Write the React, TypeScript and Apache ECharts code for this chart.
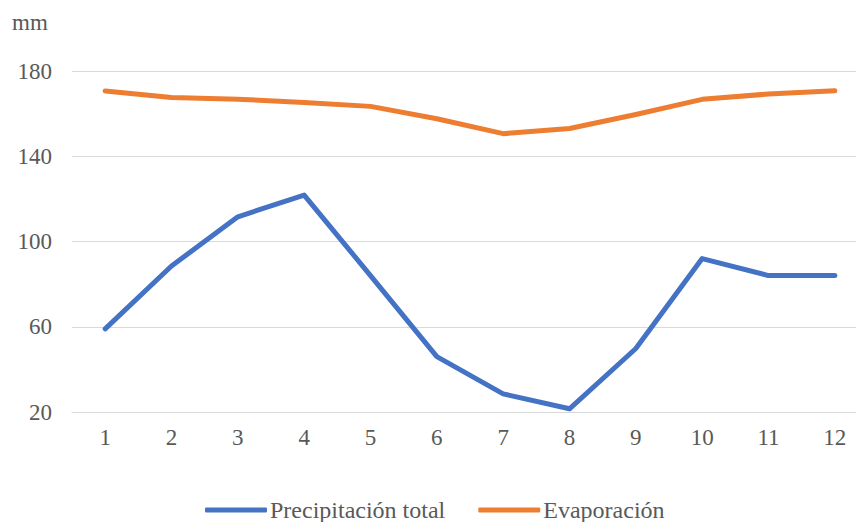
import React, { useEffect, useRef } from "react";
import * as echarts from "echarts";

// Monthly totals (mm)
const months = ["1", "2", "3", "4", "5", "6", "7", "8", "9", "10", "11", "12"];
const precipitacion = [59, 88.5, 111.6, 121.8, 84, 46, 28.5, 21.5, 49.8, 92, 84, 84];
const evaporacion = [170.6, 167.6, 166.8, 165.2, 163.4, 157.6, 150.6, 153, 159.6, 166.7, 169.2, 170.7];
const yTicks = [20, 60, 100, 140, 180];

const FONT = '"Liberation Serif", "Times New Roman", serif';
const TEXT = "#595959";

export default function App() {
  const ref = useRef<HTMLDivElement>(null);

  useEffect(() => {
    if (!ref.current) return;
    const chart = echarts.init(ref.current, undefined, { renderer: "svg" });
    chart.setOption({
      animation: false,
      backgroundColor: "#ffffff",
      textStyle: { fontFamily: FONT, color: TEXT },
      // plot area runs past the right edge, as the last band is cut off
      grid: {
        left: 72,
        top: 71,
        right: -12,
        bottom: 110,
        containLabel: false,
        outerBoundsMode: "none",
      },
      graphic: [
        {
          type: "text",
          left: 12,
          top: 11,
          style: { text: "mm", font: `23px ${FONT}`, fill: TEXT },
        },
      ],
      legend: {
        data: ["Precipitación total", "Evaporación"],
        left: 205,
        top: 498,
        padding: 0,
        itemWidth: 62,
        itemHeight: 5,
        itemGap: 33,
        icon: "roundRect",
        textStyle: { fontFamily: FONT, fontSize: 24, color: TEXT, padding: [0, 0, 0, -2] },
      },
      xAxis: {
        type: "category",
        data: months,
        boundaryGap: true,
        axisLine: { show: true, lineStyle: { color: "#d9d9d9", width: 1 } },
        axisTick: { show: false },
        axisLabel: { fontFamily: FONT, fontSize: 23, color: TEXT, margin: 14 },
      },
      yAxis: {
        type: "value",
        min: yTicks[0],
        max: yTicks[yTicks.length - 1],
        interval: 40,
        axisLine: { show: false },
        axisTick: { show: false },
        splitLine: { lineStyle: { color: "#d9d9d9", width: 1 } },
        axisLabel: { fontFamily: FONT, fontSize: 23, color: TEXT, margin: 20 },
      },
      series: [
        {
          name: "Precipitación total",
          type: "line",
          data: precipitacion,
          symbol: "none",
          color: "#4472C4",
          lineStyle: { width: 5, color: "#4472C4", cap: "round", join: "round" },
        },
        {
          name: "Evaporación",
          type: "line",
          data: evaporacion,
          symbol: "none",
          color: "#ED7D31",
          lineStyle: { width: 5, color: "#ED7D31", cap: "round", join: "round" },
        },
      ],
    });
    return () => chart.dispose();
  }, []);

  return (
    <div
      ref={ref}
      style={{ position: "fixed", left: 0, top: 0, width: 856, height: 522, overflow: "hidden" }}
    />
  );
}
